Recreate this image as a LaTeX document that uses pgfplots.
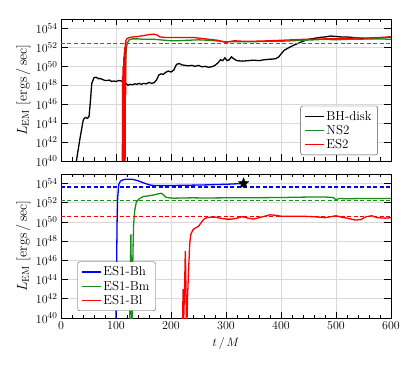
\documentclass[border=0pt]{standalone}
\usepackage{pgfplots}
\pgfplotsset{compat=1.18}
\usetikzlibrary{plotmarks}

\definecolor{cblue}{rgb}{0,0,1}
\definecolor{cgreen}{rgb}{0.1,0.55,0.1}
\definecolor{cred}{rgb}{1,0,0}

% filled five-pointed star
\pgfdeclareplotmark{fstar}{%
  \pgfpathmoveto{\pgfpointpolar{90}{\pgfplotmarksize}}%
  \pgfpathlineto{\pgfpointpolar{126}{0.45\pgfplotmarksize}}%
  \pgfpathlineto{\pgfpointpolar{162}{\pgfplotmarksize}}%
  \pgfpathlineto{\pgfpointpolar{198}{0.45\pgfplotmarksize}}%
  \pgfpathlineto{\pgfpointpolar{234}{\pgfplotmarksize}}%
  \pgfpathlineto{\pgfpointpolar{270}{0.45\pgfplotmarksize}}%
  \pgfpathlineto{\pgfpointpolar{306}{\pgfplotmarksize}}%
  \pgfpathlineto{\pgfpointpolar{342}{0.45\pgfplotmarksize}}%
  \pgfpathlineto{\pgfpointpolar{18}{\pgfplotmarksize}}%
  \pgfpathlineto{\pgfpointpolar{54}{0.45\pgfplotmarksize}}%
  \pgfpathclose
  \pgfusepathqfillstroke
}

\pgfplotsset{
  lpanel/.style={
    scale only axis,
    width=330pt,
    xmin=0, xmax=600,
    ymin=40, ymax=55,
    xtick={0,100,...,600},
    minor x tick num=4,
    ytick={40,42,...,54},
    yticklabels={$10^{40}$,$10^{42}$,$10^{44}$,$10^{46}$,$10^{48}$,$10^{50}$,$10^{52}$,$10^{54}$},
    xmajorgrids, ymajorgrids,
    grid style={gray!30, line width=0.7pt},
    major tick length=6.5pt,
    minor tick length=3.5pt,
    tick style={black, line width=0.7pt},
    axis line style={line width=0.8pt},
    font=\fontsize{13}{15}\selectfont,
    ylabel={$L_{\mathrm{EM}}$ [ergs$\,/\,$sec]},
    ylabel style={at={(axis description cs:-0.082,0.5)}, font=\fontsize{14}{16}\selectfont},
    legend cell align=left,
    legend image code/.code={\draw[#1] (0cm,0cm) -- (0.65cm,0cm);},
    legend style={draw=black!70, rounded corners=2pt, font=\fontsize{13}{15}\selectfont,
      row sep=-0.5pt, inner xsep=4pt, inner ysep=3pt},
    clip=true,
  },
  sol/.style={no marks, line width=1.3pt},
  dsh/.style={no marks, line width=1.2pt, dash pattern=on 4pt off 2.5pt},
}

\begin{document}
\begin{tikzpicture}
\path[use as bounding box] (-61pt,-48pt) rectangle (350pt,318pt);

% upper panel
\begin{axis}[lpanel, at={(0pt,157pt)}, anchor=south west, height=142pt,
  xticklabels={},
  legend style={at={(0.96,0.042)}, anchor=south east}]
\addplot[black, sol] coordinates {
 (28,40) (34,42.2) (40,44.2) (42,44.5) (45,44.6) (48,44.5) (51,44.7) (53,46) (56,48.2)
 (60,48.8) (64,48.85) (68,48.7) (72,48.7) (76,48.6) (80,48.5) (84,48.5) (88,48.55)
 (92,48.4) (96,48.45) (100,48.4) (105,48.5) (110,48.45) (114,48.3) (118,48.2) (122,48.0)
 (126,48.1) (130,48.05) (134,48.15) (138,48.1) (142,48.2) (146,48.1) (150,48.2) (155,48.15)
 (160,48.3) (165,48.2) (170,48.3) (174,48.6) (178,49.1) (182,49.2) (186,49.15) (190,49.35)
 (195,49.5) (200,49.4) (205,49.6) (210,50.2) (215,50.3) (220,50.15) (226,50.1) (232,50.05)
 (238,50.1) (244,50.0) (250,50.1) (256,49.95) (262,50.0) (268,49.9) (274,49.95) (280,50.1)
 (286,50.4) (290,50.7) (294,50.6) (298,50.9) (302,50.6) (306,50.7) (310,51.0) (314,50.8)
 (320,50.6) (330,50.55) (340,50.6) (350,50.65) (360,50.6) (370,50.7) (380,50.75) (390,50.8)
 (396,51.0) (400,51.3) (406,51.7) (412,51.9) (420,52.15) (430,52.4) (440,52.65) (450,52.85)
 (460,52.95) (470,53.05) (480,53.1) (490,53.2) (500,53.15) (510,53.1) (520,53.1) (530,53.05)
 (540,53.0) (550,52.95) (560,52.95) (570,52.95) (580,53.0) (590,53.05) (600,53.1)
};
\addlegendentry{BH-disk}
\addplot[cgreen, sol] coordinates {
 (116,47.0) (117,49) (118,51) (119,52) (121,52.5) (124,52.8) (130,52.9) (140,52.9)
 (150,52.85) (160,52.85) (170,52.85) (180,52.8) (190,52.75) (200,52.7) (210,52.7)
 (230,52.75) (250,52.8) (270,52.75) (290,52.65) (300,52.6) (320,52.6) (350,52.6)
 (380,52.65) (400,52.65) (420,52.7) (440,52.75) (460,52.8) (480,52.85) (500,52.8)
 (520,52.85) (540,52.85) (560,52.9) (580,52.9) (600,52.85)
};
\addlegendentry{NS2}
\addplot[cred, sol] coordinates {
 (111.5,39) (112,49) (112.5,39) (113,50) (113.5,39) (114,51) (114.5,39) (115,51.5)
 (115.5,39) (116,52) (116.5,39) (117,52.5) (117.5,47) (118,52.7) (119.5,52.9) (122,53.0)
 (130,53.1) (140,53.15) (150,53.25) (160,53.35) (168,53.4) (175,53.3) (180,53.1)
 (190,53.05) (200,53.05) (220,53.05) (240,53.05) (255,52.95) (270,52.85) (285,52.75)
 (295,52.6) (300,52.5) (305,52.6) (315,52.7) (330,52.65) (350,52.65) (380,52.7)
 (400,52.75) (420,52.8) (440,52.85) (460,52.85) (480,52.9) (500,52.9) (520,52.95)
 (540,53.0) (560,53.0) (580,53.05) (600,53.1)
};
\addlegendentry{ES2}
\addplot[cgreen, dsh, forget plot] coordinates {(0,52.4) (600,52.4)};
\addplot[black!60, no marks, line width=1.2pt, dash pattern=on 1.5pt off 5pt, forget plot]
  coordinates {(0,52.4) (600,52.4)};
\end{axis}

% lower panel
\begin{axis}[lpanel, at={(0pt,0pt)}, anchor=south west, height=144pt,
  xlabel={$t\,/\,M$},
  xlabel style={yshift=-1pt},
  legend style={at={(0.05,0.049)}, anchor=south west}]
\addplot[cblue, sol] coordinates {
 (100,39.5) (101,45) (102,50) (103,52.5) (105,53.9) (108,54.25) (112,54.38) (118,54.45)
 (125,54.46) (132,54.42) (140,54.3) (148,54.12) (155,53.98) (162,53.85) (170,53.8)
 (180,53.79) (200,53.8) (220,53.82) (240,53.84) (260,53.86) (280,53.9) (300,53.93)
 (320,53.98) (332,54.0)
};
\addlegendentry{ES1-Bh}
\addplot[cgreen, sol] coordinates {
 (125,39.5) (126,44) (127,48.7) (128,44) (128.5,39.5) (129.5,39.5) (130,44) (131,47.2)
 (132,49.7) (134,51.2) (137,52.1) (142,52.4) (149,52.64) (158,52.72) (167,52.8) (175,52.9)
 (182,53.0) (186,52.85) (190,52.6) (196,52.52) (205,52.48) (220,52.5) (240,52.52)
 (260,52.5) (300,52.52) (350,52.53) (400,52.55) (450,52.6) (480,52.6) (495,52.55)
 (500,52.3) (505,52.45) (520,52.42) (550,52.45) (600,52.45)
};
\addlegendentry{ES1-Bm}
\addplot[cred, sol] coordinates {
 (221,39.5) (222,43) (223,39.5) (225,44) (226,47.0) (227,44) (228,39.5) (229,39.5)
 (230,42) (232,45) (234,47.7) (236,48.7) (240,49.2) (245,49.4) (250,49.55) (255,49.95)
 (260,50.3) (265,50.45) (270,50.5) (280,50.5) (290,50.4) (300,50.3) (310,50.3)
 (320,50.4) (330,50.55) (340,50.4) (350,50.3) (360,50.45) (370,50.6) (380,50.75)
 (390,50.7) (400,50.6) (420,50.6) (440,50.6) (460,50.55) (480,50.45) (490,50.55)
 (500,50.65) (510,50.5) (520,50.4) (535,50.2) (545,50.25) (555,50.55) (565,50.65)
 (575,50.45) (590,50.4) (600,50.45)
};
\addlegendentry{ES1-Bl}
\addplot[cblue, dsh, forget plot] coordinates {(0,53.65) (600,53.65)};
\addplot[cgreen, dsh, forget plot] coordinates {(0,52.25) (600,52.25)};
\addplot[cred, dsh, forget plot] coordinates {(0,50.6) (600,50.6)};
\addplot[black, only marks, mark=fstar, mark size=5.5pt, forget plot]
  coordinates {(332,54.03)};
\end{axis}
\end{tikzpicture}
\end{document}
